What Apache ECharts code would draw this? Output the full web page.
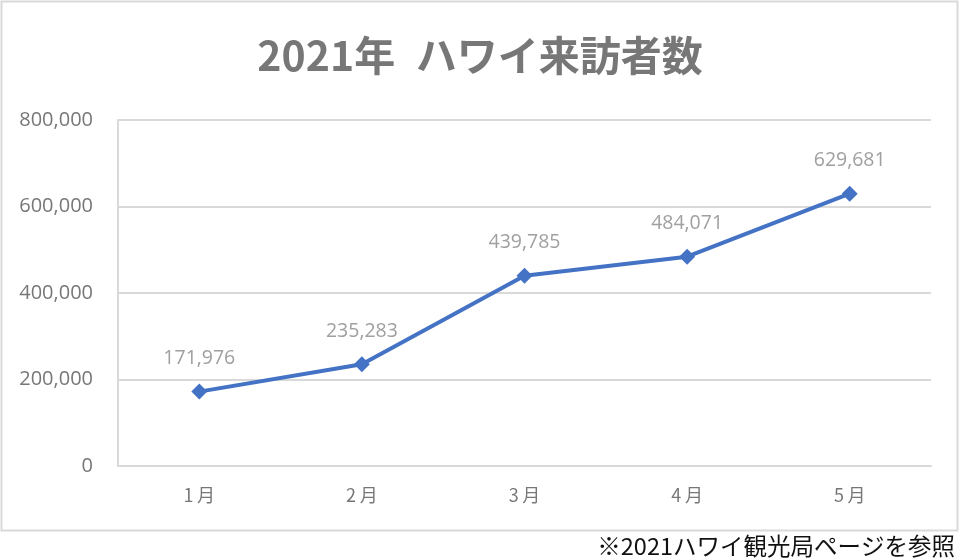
<!DOCTYPE html>
<html><head><meta charset="utf-8">
<script src="https://cdn.jsdelivr.net/npm/echarts@6/dist/echarts.min.js"></script>
<style>html,body{margin:0;padding:0;background:#fff}#c{width:960px;height:559px}</style>
</head><body><div id="c"></div>
<script>
const categories = ['1月','2月','3月','4月','5月'];
const visitors = [171976, 235283, 439785, 484071, 629681];
const titleText = '2021年\u2002ハワイ来訪者数';
const noteText = '※2021ハワイ観光局ページを参照';
const chart = echarts.init(document.getElementById('c'));
const jp = '"Noto Sans CJK JP", "Noto Sans", sans-serif';
chart.setOption({
  backgroundColor: '#fff',
  animation: false,
  title: {
    text: titleText, left: 'center', top: 30,
    textStyle: {fontFamily: jp, fontSize: 41, fontWeight: 'bold', color: '#777777'}
  },
  graphic: [
    {type: 'rect', shape: {x: 1.5, y: 1.5, width: 956, height: 529}, style: {fill: 'none', stroke: '#d9d9d9', lineWidth: 2}, silent: true},
    {type: 'text', right: 5, top: 534, style: {text: noteText, font: '23.5px "Noto Sans CJK JP", sans-serif', fill: '#111'}}
  ],
  grid: {left: 118, right: 29, top: 120, bottom: 93},
  xAxis: {
    type: 'category', data: categories, boundaryGap: true,
    axisLine: {lineStyle: {color: '#d9d9d9', width: 2}},
    axisTick: {show: false},
    axisLabel: {fontFamily: jp, fontSize: 18, color: '#777', margin: 20,
      formatter: v => v.replace('月', '\u2009月')}
  },
  yAxis: {
    type: 'value', min: 0, max: 800000, interval: 200000,
    axisLine: {show: true, lineStyle: {color: '#d9d9d9', width: 2}},
    axisTick: {show: false},
    splitLine: {lineStyle: {color: '#d9d9d9', width: 2}},
    axisLabel: {fontFamily: '"Open Sans", "Noto Sans", sans-serif', fontSize: 20, color: '#777', margin: 25,
      formatter: v => v.toLocaleString('en-US')}
  },
  series: [{
    type: 'line', data: visitors,
    symbol: 'diamond', symbolSize: 16,
    lineStyle: {color: '#4472C4', width: 4},
    itemStyle: {color: '#4472C4'},
    label: {show: true, position: 'top', distance: 15, fontFamily: '"Open Sans", "Noto Sans", sans-serif', fontSize: 19.5, color: '#a0a0a0',
      formatter: p => p.value.toLocaleString('en-US')}
  }]
});
</script></body></html>
